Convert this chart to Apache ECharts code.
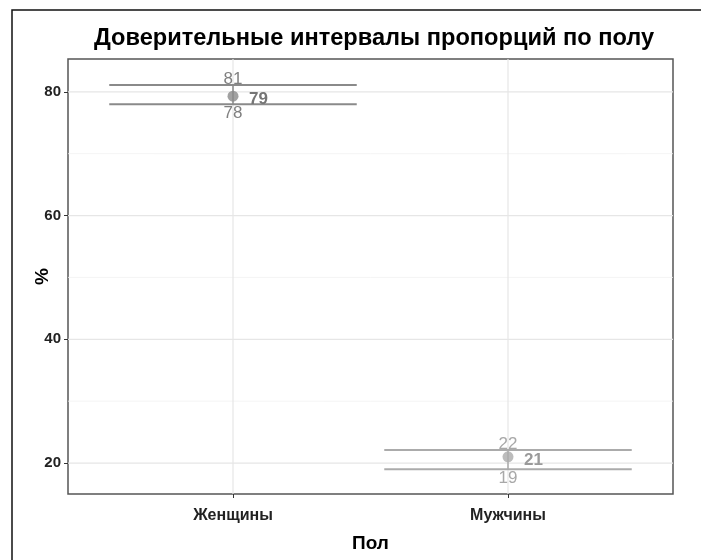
<!DOCTYPE html>
<html>
<head>
<meta charset="utf-8">
<script src="https://cdn.jsdelivr.net/npm/echarts@6/dist/echarts.min.js"></script>
<style>html,body{margin:0;padding:0;background:#fff;}#c{width:701px;height:560px;}</style>
</head>
<body>
<div id="c"></div>
<script>
const categories = ['Женщины', 'Мужчины'];
const estimate = [79.3, 21.0];
const lower = [78.0, 19.0];
const upper = [81.1, 22.1];
const yTicks = [20, 40, 60, 80];
const yMinor = [30, 50, 70];
const groupColors = ['#8a8a8a', '#ababab'];
const labelColors = ['#808080', '#a8a8a8'];

const chart = echarts.init(document.getElementById('c'));
const FONT = '"Liberation Sans", Arial, sans-serif';

const gridData = yTicks.map(v => ['h', v, 1]).concat(yMinor.map(v => ['h', v, 0])).concat(categories.map((c, i) => ['v', i + 1, 1]));
const errData = categories.map((c, i) => [i + 1, lower[i], upper[i], estimate[i], i]);
const ptData = categories.map((c, i) => ({ value: [i + 1, estimate[i]], itemStyle: { color: groupColors[i] } }));

chart.setOption({
  animation: false,
  backgroundColor: '#fff',
  title: {
    text: 'Доверительные интервалы пропорций по полу',
    left: 369, top: 21, textAlign: 'center',
    textStyle: { fontFamily: FONT, fontSize: 23.6, fontWeight: 'bold', color: '#000' }
  },
  graphic: [{
    type: 'rect', shape: { x: 12, y: 10, width: 720, height: 600 },
    style: { fill: 'none', stroke: '#111', lineWidth: 1.5 }, silent: true, z: 100
  }],
  grid: { left: 68, top: 59, right: 28, bottom: 66, show: true, borderColor: '#555', borderWidth: 1.5, backgroundColor: '#fff' },
  xAxis: {
    type: 'value', min: 0.4, max: 2.6,
    name: 'Пол', nameLocation: 'middle', nameGap: 40, nameMoveOverlap: false,
    nameTextStyle: { fontFamily: FONT, fontSize: 19, fontWeight: 'bold', color: '#000' },
    axisLine: { show: false },
    axisTick: { show: true, length: 4, customValues: [1, 2], lineStyle: { color: '#333' } },
    axisLabel: { customValues: [1, 2], formatter: v => categories[Math.round(v) - 1] || '', fontFamily: FONT, fontSize: 16, fontWeight: 'bold', color: '#222', margin: 14 },
    splitLine: { show: false }
  },
  yAxis: {
    type: 'value', min: 15, max: 85.3,
    name: '%', nameLocation: 'middle', nameGap: 16, nameRotate: 90, nameMoveOverlap: false,
    nameTextStyle: { fontFamily: FONT, fontSize: 19, fontWeight: 'bold', color: '#000' },
    axisLine: { show: false },
    axisTick: { show: true, length: 4, customValues: yTicks, lineStyle: { color: '#333' } },
    axisLabel: { customValues: yTicks, fontFamily: FONT, fontSize: 15, fontWeight: 'bold', color: '#222', margin: 7 },
    splitLine: { show: false }
  },
  series: [
    {
      type: 'custom', name: 'grid', z: 1, silent: true, clip: true,
      data: gridData,
      renderItem: function (params, api) {
        const d = gridData[params.dataIndex];
        let p1, p2;
        if (d[0] === 'h') { p1 = api.coord([0.4, d[1]]); p2 = api.coord([2.6, d[1]]); }
        else { p1 = api.coord([d[1], 15]); p2 = api.coord([d[1], 85.3]); }
        return { type: 'line', shape: { x1: p1[0], y1: p1[1], x2: p2[0], y2: p2[1] },
          style: { stroke: d[2] ? '#e6e6e6' : '#f1f1f1', lineWidth: d[2] ? 1.2 : 0.8 } };
      }
    },
    {
      type: 'custom', name: 'ci', z: 3, silent: true,
      data: errData,
      renderItem: function (params, api) {
        const x = api.value(0), lo = api.value(1), hi = api.value(2), est = api.value(3), idx = api.value(4);
        const col = groupColors[idx], lc = labelColors[idx];
        const a = api.coord([x - 0.45, hi]), b = api.coord([x + 0.45, hi]);
        const c = api.coord([x - 0.45, lo]), d = api.coord([x + 0.45, lo]);
        const m = api.coord([x, est]);
        const ch = [
          { type: 'line', shape: { x1: a[0], y1: a[1], x2: b[0], y2: b[1] }, style: { stroke: col, lineWidth: 2 } },
          { type: 'line', shape: { x1: c[0], y1: c[1], x2: d[0], y2: d[1] }, style: { stroke: col, lineWidth: 2 } },
          { type: 'line', shape: { x1: m[0], y1: a[1], x2: m[0], y2: c[1] }, style: { stroke: col, lineWidth: 1.5 } },
          { type: 'text', x: m[0], y: a[1] - 6, style: { text: String(Math.round(hi)), fill: lc, font: '17px ' + FONT, align: 'center', verticalAlign: 'middle' } },
          { type: 'text', x: m[0], y: c[1] + 9, style: { text: String(Math.round(lo)), fill: lc, font: '17px ' + FONT, align: 'center', verticalAlign: 'middle' } },
          { type: 'text', x: m[0] + 16, y: m[1] + 3, style: { text: String(Math.round(est)), fill: idx === 0 ? '#757575' : '#9a9a9a', font: 'bold 17px ' + FONT, align: 'left', verticalAlign: 'middle' } }
        ];
        return { type: 'group', children: ch };
      }
    },
    {
      type: 'scatter', name: 'est', z: 4, symbol: 'circle', symbolSize: 11,
      data: ptData
    }
  ]
});
</script>
</body>
</html>
